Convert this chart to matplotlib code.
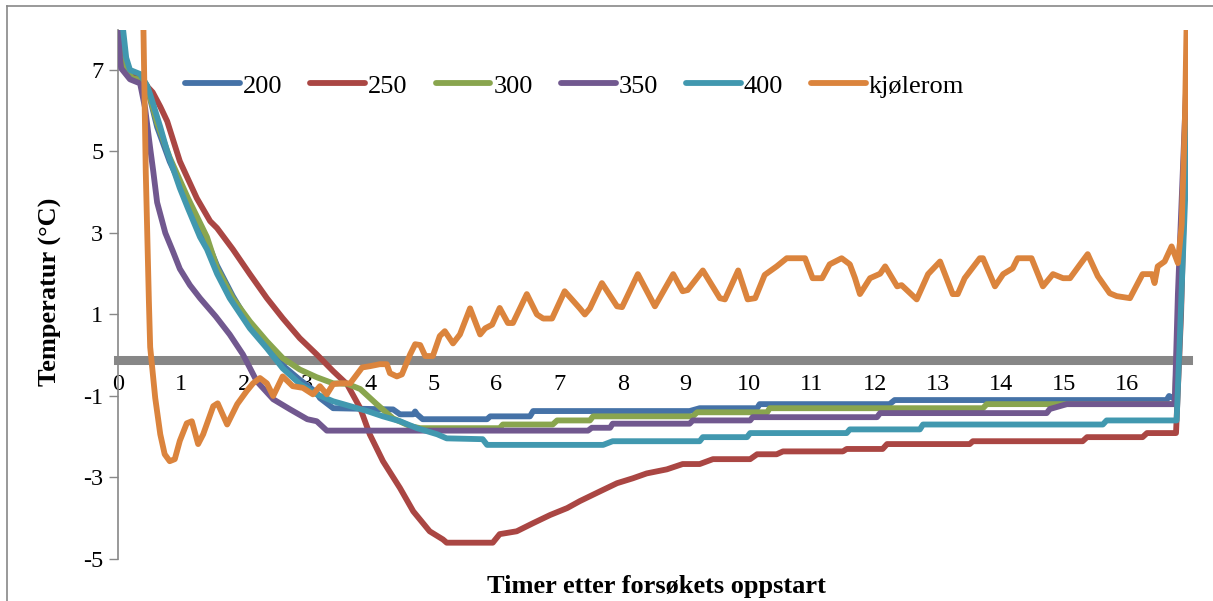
import matplotlib
matplotlib.use("Agg")
import matplotlib.pyplot as plt
from matplotlib.lines import Line2D

plt.rcParams['font.family'] = ['Liberation Serif', 'DejaVu Serif']
plt.rcParams['axes.unicode_minus'] = False

# (timer, temperatur) lest av figuren
s200 = [(0, 10), (0.06, 8.0), (0.13, 7.1), (0.22, 6.85), (0.38, 6.8), (0.46, 6.6), (0.62, 5.6),
        (0.82, 4.75), (1.09, 3.85), (1.41, 2.8), (1.57, 2.2), (1.82, 1.45), (2.09, 0.75), (2.36, 0.2),
        (2.61, -0.25), (2.88, -0.6), (3.15, -0.92), (3.20, -1.05), (3.41, -1.3), (4.36, -1.33),
        (4.47, -1.45), (4.68, -1.45), (4.71, -1.38), (4.74, -1.45), (4.83, -1.57), (5.85, -1.57),
        (5.90, -1.5), (6.53, -1.5), (6.58, -1.37), (9.06, -1.37), (9.22, -1.3), (10.13, -1.3),
        (10.17, -1.2), (12.23, -1.2), (12.31, -1.1), (16.62, -1.1), (16.66, -1.0), (16.72, -1.05),
        (16.78, -0.9), (16.86, 2.0), (16.96, 7.8)]
s250 = [(0, 10), (0.05, 8.0), (0.12, 7.1), (0.22, 6.85), (0.40, 6.75), (0.46, 6.6), (0.55, 6.45),
        (0.67, 6.1), (0.78, 5.74), (0.98, 4.76), (1.25, 3.85), (1.46, 3.29), (1.57, 3.12), (1.82, 2.6),
        (2.09, 1.99), (2.36, 1.4), (2.61, 0.91), (2.88, 0.42), (3.15, 0.02), (3.41, -0.39),
        (3.63, -0.71), (3.84, -1.3), (3.99, -1.94), (4.20, -2.6), (4.47, -3.26), (4.68, -3.83),
        (4.94, -4.32), (5.15, -4.52), (5.21, -4.6), (5.94, -4.6), (6.05, -4.39), (6.32, -4.32),
        (6.58, -4.12), (6.85, -3.92), (7.12, -3.75), (7.32, -3.58), (7.64, -3.34), (7.91, -3.14),
        (8.16, -3.02), (8.38, -2.9), (8.70, -2.8), (8.95, -2.67), (9.22, -2.67), (9.43, -2.55),
        (10.02, -2.55), (10.13, -2.43), (10.44, -2.43), (10.54, -2.36), (11.49, -2.36), (11.55, -2.3),
        (12.12, -2.3), (12.19, -2.18), (13.50, -2.18), (13.55, -2.11), (15.29, -2.11), (15.36, -2.01),
        (16.24, -2.01), (16.31, -1.91), (16.77, -1.91), (16.85, 1.0), (16.96, 7.5)]
s300 = [(0, 10), (0.05, 8.0), (0.12, 7.1), (0.22, 6.8), (0.38, 6.75), (0.46, 6.6), (0.62, 5.7),
        (0.82, 4.85), (1.11, 3.85), (1.41, 2.9), (1.57, 2.14), (1.82, 1.4), (2.09, 0.83), (2.36, 0.34),
        (2.61, -0.07), (2.88, -0.35), (3.15, -0.54), (3.41, -0.69), (3.63, -0.7), (3.84, -0.83),
        (4.10, -1.2), (4.36, -1.55), (4.63, -1.74), (4.79, -1.79), (6.05, -1.79), (6.10, -1.7),
        (6.89, -1.7), (6.96, -1.6), (7.48, -1.6), (7.53, -1.5), (9.11, -1.5), (9.18, -1.4),
        (10.29, -1.4), (10.33, -1.3), (13.71, -1.3), (13.77, -1.2), (16.75, -1.2), (16.80, 0.7),
        (16.96, 7.6)]
s350 = [(0, 10), (0.03, 7.3), (0.05, 7.04), (0.19, 6.77), (0.35, 6.67), (0.43, 6.06), (0.51, 5.08),
        (0.56, 4.5), (0.62, 3.75), (0.75, 3.0), (0.87, 2.55), (0.98, 2.12), (1.14, 1.72), (1.30, 1.4),
        (1.55, 0.95), (1.77, 0.51), (1.98, 0.02), (2.20, -0.64), (2.46, -1.08), (2.73, -1.33),
        (3.00, -1.57), (3.15, -1.62), (3.31, -1.85), (7.45, -1.85), (7.51, -1.78), (7.80, -1.78),
        (7.84, -1.68), (9.06, -1.68), (9.11, -1.6), (10.02, -1.6), (10.06, -1.52), (12.03, -1.52),
        (12.08, -1.42), (14.72, -1.42), (14.77, -1.32), (15.04, -1.2), (16.75, -1.2), (16.80, 1.5),
        (16.96, 7.7)]
s400 = [(0, 10), (0.08, 8.0), (0.13, 7.3), (0.19, 7.0), (0.35, 6.9), (0.46, 6.62), (0.51, 6.4),
        (0.67, 5.6), (0.78, 5.0), (0.98, 4.1), (1.11, 3.6), (1.30, 2.9), (1.41, 2.6), (1.57, 2.0),
        (1.77, 1.4), (2.09, 0.66), (2.36, 0.17), (2.61, -0.32), (2.88, -0.7), (3.15, -0.96),
        (3.41, -1.13), (3.57, -1.2), (3.95, -1.37), (4.20, -1.5), (4.47, -1.62), (4.74, -1.79),
        (5.06, -1.94), (5.21, -2.04), (5.78, -2.06), (5.85, -2.2), (7.69, -2.2), (7.84, -2.11),
        (9.22, -2.11), (9.27, -2.01), (9.97, -2.01), (10.02, -1.91), (11.55, -1.91), (11.60, -1.82),
        (12.71, -1.82), (12.76, -1.7), (15.61, -1.7), (15.67, -1.6), (16.78, -1.6), (16.82, 0.0),
        (16.96, 5.7)]
kjolerom = [(0, 15), (0.38, 12), (0.40, 8.3), (0.44, 4.5), (0.49, 1.3), (0.51, 0.2), (0.59, -1.05),
            (0.67, -1.94), (0.74, -2.43), (0.82, -2.6), (0.90, -2.55), (0.98, -2.1), (1.09, -1.67),
            (1.17, -1.62), (1.27, -2.18), (1.35, -1.94), (1.51, -1.25), (1.58, -1.18), (1.73, -1.7),
            (1.89, -1.2), (2.04, -0.88), (2.14, -0.69), (2.25, -0.56), (2.36, -0.69), (2.46, -1.0),
            (2.61, -0.52), (2.77, -0.76), (2.93, -0.8), (3.09, -0.96), (3.20, -0.76), (3.31, -0.96),
            (3.41, -0.71), (3.52, -0.69), (3.68, -0.69), (3.87, -0.3), (3.99, -0.27), (4.15, -0.22),
            (4.26, -0.22), (4.31, -0.44), (4.42, -0.52), (4.50, -0.47), (4.63, 0.02), (4.71, 0.27),
            (4.79, 0.25), (4.87, -0.02), (4.99, -0.02), (5.10, 0.47), (5.18, 0.59), (5.31, 0.29),
            (5.42, 0.51), (5.58, 1.15), (5.74, 0.51), (5.82, 0.66), (5.93, 0.75), (6.05, 1.16),
            (6.18, 0.79), (6.26, 0.79), (6.48, 1.5), (6.64, 1.0), (6.74, 0.9), (6.88, 0.9), (7.08, 1.57),
            (7.32, 1.15), (7.40, 1.0), (7.48, 1.15), (7.67, 1.77), (7.91, 1.2), (7.99, 1.18), (8.24, 1.99),
            (8.51, 1.2), (8.80, 1.99), (8.95, 1.57), (9.03, 1.6), (9.27, 2.08), (9.54, 1.4), (9.62, 1.37),
            (9.83, 2.08), (9.98, 1.37), (10.10, 1.4), (10.25, 1.97), (10.44, 2.18), (10.60, 2.38),
            (10.89, 2.38), (11.01, 1.89), (11.16, 1.89), (11.28, 2.23), (11.47, 2.38), (11.60, 2.23),
            (11.68, 1.9), (11.76, 1.5), (11.92, 1.89), (12.08, 2.0), (12.16, 2.18), (12.35, 1.69),
            (12.42, 1.72), (12.66, 1.37), (12.84, 1.99), (13.03, 2.3), (13.23, 1.5), (13.31, 1.5),
            (13.42, 1.89), (13.66, 2.38), (13.71, 2.38), (13.90, 1.69), (14.03, 1.99), (14.18, 2.13),
            (14.26, 2.38), (14.48, 2.38), (14.66, 1.69), (14.82, 1.99), (14.98, 1.89), (15.09, 1.89),
            (15.25, 2.23), (15.37, 2.48), (15.53, 1.94), (15.72, 1.52), (15.83, 1.45), (16.04, 1.4),
            (16.24, 1.99), (16.39, 1.99), (16.43, 1.77), (16.48, 2.18), (16.59, 2.3), (16.70, 2.67),
            (16.80, 2.26), (16.86, 3.2), (16.91, 5.7), (16.94, 8.3)]

series = [("200", s200, "#4572A7"), ("250", s250, "#AA4643"), ("300", s300, "#89A54E"),
          ("350", s350, "#71588F"), ("400", s400, "#4198AF"), ("kjølerom", kjolerom, "#DB843D")]

x_ticks = list(range(0, 17))
y_ticks = [-5, -3, -1, 1, 3, 5, 7]

W, H = 1213, 601
fig = plt.figure(figsize=(W / 100, H / 100), dpi=100)
ax = fig.add_axes([118 / W, 1 - 559 / H, (1188 - 118) / W, (559 - 30) / H])

for name, pts, col in series:
    xs = [p[0] for p in pts]
    ys = [p[1] for p in pts]
    ax.plot(xs, ys, color=col, lw=4.2, label=name, zorder=3,
            solid_joinstyle='round', solid_capstyle='round')

ax.set_xlim(0, 16.96)
ax.set_ylim(-5, 7.98)

for s in ['top', 'right']:
    ax.spines[s].set_visible(False)
ax.spines['left'].set_color('#888888')
ax.spines['left'].set_linewidth(1.2)
ax.spines['bottom'].set_position(('data', -0.11))
ax.spines['bottom'].set_color('#878787')
ax.spines['bottom'].set_linewidth(6.5)
ax.spines['bottom'].set_zorder(1)

ax.set_xticks(x_ticks)
ax.set_yticks(y_ticks)
ax.tick_params(axis='x', length=0, pad=10.5, labelsize=17.5)
ax.tick_params(axis='y', length=6.5, width=1, color='#888888', direction='out', pad=4, labelsize=17.5)

ax.legend(loc='center left', bbox_to_anchor=(185 / W, 1 - 86 / H), bbox_transform=fig.transFigure,
          ncol=6, frameon=False, fontsize=19, handlelength=2.08, handletextpad=0.12,
          columnspacing=1.05, borderpad=0, borderaxespad=0)

fig.text(50 / W, 1 - 292 / H, "Temperatur (°C)", rotation=90, ha='center', va='center',
         fontsize=19, fontweight='bold')
fig.text(656 / W, 1 - 587 / H, "Timer etter forsøkets oppstart", ha='center', va='center',
         fontsize=19, fontweight='bold')

# ramme rundt diagrammet
fig.add_artist(Line2D([7 / W, 7 / W], [0, 1 - 6 / H], color='#888888', lw=1.2))
fig.add_artist(Line2D([7 / W, 1], [1 - 6 / H, 1 - 6 / H], color='#888888', lw=1.2))

fig.savefig("out.png", dpi=100)
